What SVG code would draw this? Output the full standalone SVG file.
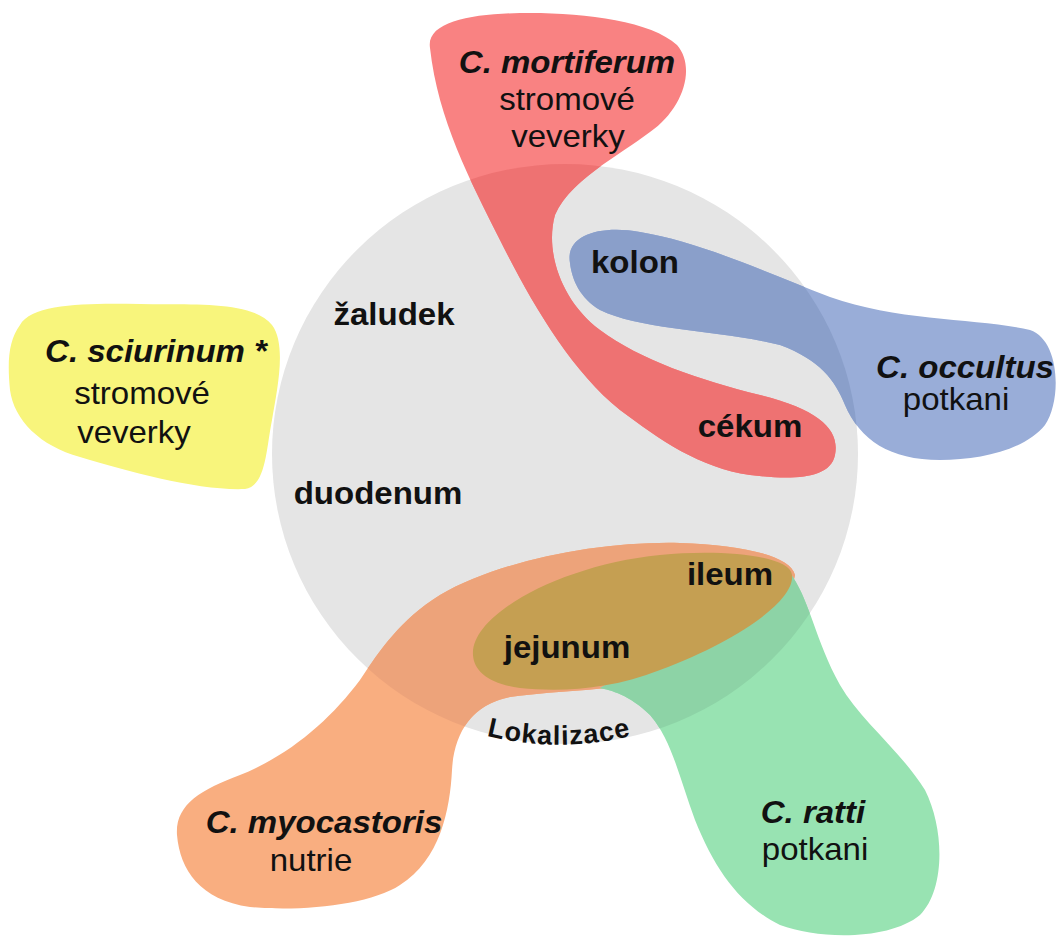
<svg xmlns="http://www.w3.org/2000/svg" width="1060" height="941" viewBox="0 0 1060 941">
<style>
text{font-family:"Liberation Sans",Arial,sans-serif;font-size:31px;fill:#111;text-anchor:middle}
.sp{font-weight:bold;font-style:italic}
.rg{font-weight:bold}
.loc{font-weight:bold;font-size:27px;letter-spacing:1px}
</style>
<defs>
<clipPath id="inC"><ellipse cx="565" cy="454" rx="293" ry="290"/></clipPath>
<path id="redP" d="M 430 48 C 426 22, 470 14, 520 13 C 580 12, 650 20, 677 45 C 697 68, 682 110, 650 132 C 620 155, 570 180, 555 215 C 545 250, 560 300, 600 330 C 640 360, 700 380, 760 395 C 820 410, 840 430, 835 455 C 830 480, 790 480, 750 475 C 700 468, 660 440, 620 410 C 570 370, 530 300, 500 240 C 470 180, 438 120, 430 48 Z"/>
<path id="blueP" d="M 570 263 C 565 235, 600 225, 640 232 C 700 242, 760 270, 830 297 C 900 322, 980 318, 1030 330 C 1060 340, 1062 400, 1045 425 C 1025 450, 980 460, 940 460 C 890 460, 860 440, 845 405 C 835 380, 820 360, 780 345 C 720 330, 640 330, 600 310 C 580 298, 572 280, 570 263 Z"/>
<path id="orangeP" d="M 795 575 C 790 555, 740 545, 680 543 C 600 541, 500 560, 440 595 C 400 620, 380 650, 360 680 C 330 720, 290 755, 240 775 C 200 790, 175 805, 177 835 C 180 870, 200 900, 250 907 C 300 912, 370 905, 400 885 C 440 860, 450 810, 452 770 C 454 735, 470 705, 510 697 C 560 690, 620 690, 660 680 C 720 665, 790 610, 795 575 Z"/>
<path id="greenP" d="M 790 573 C 810 600, 815 640, 840 685 C 860 720, 900 750, 925 790 C 945 830, 945 890, 920 915 C 890 940, 820 940, 780 925 C 740 905, 715 870, 695 820 C 680 780, 672 740, 650 715 C 630 695, 610 690, 600 688 C 650 660, 740 620, 790 573 Z"/>
<path id="arcP" d="M 304 597 A 294 294 0 0 0 814 597"/>
</defs>
<rect width="1060" height="941" fill="#ffffff"/>

<g id="lokalizace">
<ellipse cx="565" cy="454" rx="293" ry="290" fill="#e5e5e5"/>
<text class="rg" transform="matrix(1.065 0 0 1 394 325)">žaludek</text>
<text class="rg" transform="matrix(1.065 0 0 1 378 504)">duodenum</text>
<text class="loc"><textPath href="#arcP" startOffset="50%">Lokalizace</textPath></text>
</g>

<g id="sciurinum">
<path d="M 20 325 C 32 303, 90 303, 140 304 C 190 305, 252 300, 272 325 C 287 345, 277 390, 272 420 C 266 450, 266 486, 245 489 C 200 491, 130 472, 80 457 C 40 446, 14 420, 10 390 C 7 360, 9 340, 20 325 Z" fill="#f8f57c"/>
<text class="sp" transform="matrix(1.065 0 0 1 156 362)">C. sciurinum *</text>
<text transform="matrix(1.065 0 0 1 142 404)">stromové</text>
<text transform="matrix(1.065 0 0 1 134 443)">veverky</text>
</g>

<g id="mortiferum">
<use href="#redP" fill="#f98282"/>
<use href="#redP" fill="#ee7272" clip-path="url(#inC)"/>
<text class="sp" transform="matrix(1.065 0 0 1 567 73)">C. mortiferum</text>
<text transform="matrix(1.065 0 0 1 567 110)">stromové</text>
<text transform="matrix(1.065 0 0 1 568 147)">veverky</text>
<text class="rg" transform="matrix(1.065 0 0 1 750 437)">cékum</text>
</g>

<g id="occultus">
<use href="#blueP" fill="#99add8"/>
<use href="#blueP" fill="#8a9fca" clip-path="url(#inC)"/>
<text class="rg" transform="matrix(1.065 0 0 1 635 273)">kolon</text>
<text class="sp" transform="matrix(1.065 0 0 1 965 378)">C. occultus</text>
<text transform="matrix(1.065 0 0 1 956 410)">potkani</text>
</g>

<g id="myocastoris">
<use href="#orangeP" fill="#f9ae80"/>
<use href="#orangeP" fill="#eda37a" clip-path="url(#inC)"/>
<text class="sp" transform="matrix(1.065 0 0 1 324 833)">C. myocastoris</text>
<text transform="matrix(1.065 0 0 1 311 871)">nutrie</text>
</g>

<g id="ratti">
<use href="#greenP" fill="#98e3b2"/>
<use href="#greenP" fill="#8dd3a6" clip-path="url(#inC)"/>
<text class="sp" transform="matrix(1.065 0 0 1 813 823)">C. ratti</text>
<text transform="matrix(1.065 0 0 1 815 860)">potkani</text>
</g>

<g id="jejunum-ileum">
<path d="M 473 655 C 470 615, 560 565, 660 555 C 720 549, 790 555, 792 575 C 795 600, 740 640, 660 670 C 610 690, 560 692, 520 688 C 490 684, 474 672, 473 655 Z" fill="#c59f52"/>
<text class="rg" transform="matrix(1.065 0 0 1 730 585)">ileum</text>
<text class="rg" transform="matrix(1.065 0 0 1 567 658)">jejunum</text>
</g>
</svg>
